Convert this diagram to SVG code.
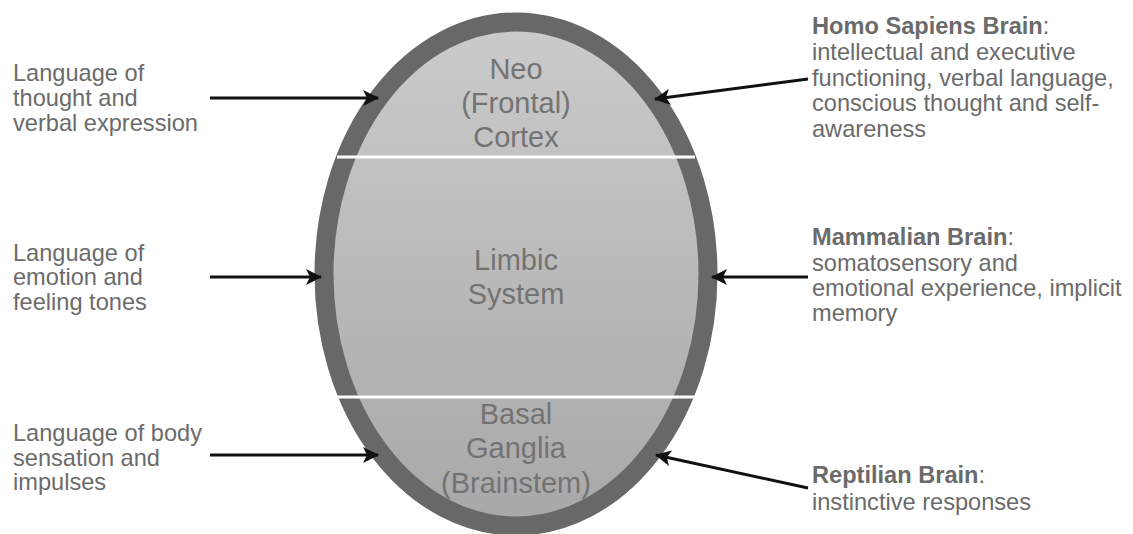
<svg xmlns="http://www.w3.org/2000/svg" width="1133" height="534" viewBox="0 0 1133 534">
<style>
text{font-family:"Liberation Sans",Arial,Helvetica,sans-serif}
.side{font-size:23.6px;fill:#6b6b6b}
.b{font-weight:bold}
.inner{font-size:29px;fill:#737373;text-anchor:middle}
.arrow{stroke:#111;stroke-width:3;fill:none;marker-end:url(#ah)}
.div{stroke:#fff;stroke-width:3}
</style>
<defs>
<linearGradient id="fillg" x1="0" y1="0" x2="0" y2="1">
<stop offset="0" stop-color="#cbcbcb"/>
<stop offset="1" stop-color="#a8a8a8"/>
</linearGradient>
<marker id="ah" markerUnits="userSpaceOnUse" markerWidth="18" markerHeight="16" refX="15" refY="8" orient="auto">
<path d="M0,0 L16,8 L0,16 L4,8 z" fill="#111"/>
</marker>
</defs>
<rect width="1133" height="534" fill="#fff"/>
<g id="brain">
<ellipse cx="516" cy="274" rx="192" ry="252" fill="url(#fillg)" stroke="#686868" stroke-width="19"/>
<line class="div" x1="337" y1="157" x2="695" y2="157"/>
<line class="div" x1="337" y1="397" x2="695" y2="397"/>
</g>
<g id="neocortex">
<text class="inner" x="516" y="79">Neo</text>
<text class="inner" x="516" y="113">(Frontal)</text>
<text class="inner" x="516" y="147">Cortex</text>
</g>
<g id="limbic">
<text class="inner" x="516" y="270">Limbic</text>
<text class="inner" x="516" y="304">System</text>
</g>
<g id="basal">
<text class="inner" x="516" y="424">Basal</text>
<text class="inner" x="516" y="458">Ganglia</text>
<text class="inner" x="516" y="493">(Brainstem)</text>
</g>
<g id="lang-thought">
<text class="side" x="13" y="81">Language of</text>
<text class="side" x="13" y="106">thought and</text>
<text class="side" x="13" y="131">verbal expression</text>
</g>
<g id="lang-emotion">
<text class="side" x="13" y="261">Language of</text>
<text class="side" x="13" y="285">emotion and</text>
<text class="side" x="13" y="310">feeling tones</text>
</g>
<g id="lang-body">
<text class="side" x="13" y="441">Language of body</text>
<text class="side" x="13" y="466">sensation and</text>
<text class="side" x="13" y="490">impulses</text>
</g>
<g id="homo-sapiens">
<text class="side" x="812" y="34"><tspan class="b">Homo Sapiens Brain</tspan>:</text>
<text class="side" x="812" y="60">intellectual and executive</text>
<text class="side" x="812" y="86">functioning, verbal language,</text>
<text class="side" x="812" y="111">conscious thought and self-</text>
<text class="side" x="812" y="137">awareness</text>
</g>
<g id="mammalian">
<text class="side" x="812" y="245"><tspan class="b">Mammalian Brain</tspan>:</text>
<text class="side" x="812" y="271">somatosensory and</text>
<text class="side" x="812" y="296">emotional experience, implicit</text>
<text class="side" x="812" y="321">memory</text>
</g>
<g id="reptilian">
<text class="side" x="812" y="483"><tspan class="b">Reptilian Brain</tspan>:</text>
<text class="side" x="812" y="510">instinctive responses</text>
</g>
<g id="connectors">
<line class="arrow" x1="210" y1="98" x2="378" y2="98"/>
<line class="arrow" x1="210" y1="277" x2="321" y2="277"/>
<line class="arrow" x1="210" y1="455" x2="378" y2="455"/>
<line class="arrow" x1="808" y1="79" x2="655" y2="99"/>
<line class="arrow" x1="808" y1="277" x2="712" y2="277"/>
<line class="arrow" x1="808" y1="488" x2="656" y2="455"/>
</g>
</svg>
